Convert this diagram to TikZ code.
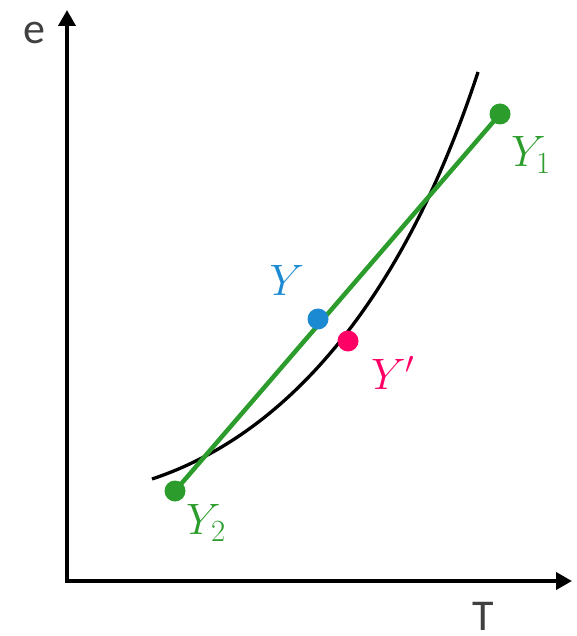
\RequirePackage{fix-cm}
\documentclass[tikz,border=0pt]{standalone}
\usepackage{fontspec}
\setmainfont{Carlito}
\usetikzlibrary{arrows.meta}
\definecolor{ggreen}{RGB}{44,157,44}
\definecolor{gblue}{RGB}{27,138,211}
\definecolor{gpink}{RGB}{255,0,102}
\definecolor{lblgray}{RGB}{64,64,64}
\tikzset{
  axis/.style={line width=3.8pt,-{Triangle[length=16pt,width=17pt]}},
  dot/.style={circle,inner sep=0pt,minimum size=21pt,fill=#1},
  axlabel/.style={text=lblgray,font=\fontsize{44}{48}\selectfont,inner sep=0pt},
  mlabel/.style={text=#1,font=\fontsize{44}{48}\selectfont,inner sep=0pt}
}
\begin{document}
\begin{tikzpicture}[x=1pt,y=-1pt]
\useasboundingbox (0,0) rectangle (577,636);
\coordinate (o1) at (67,583);
\coordinate (etop) at (67,10);
\coordinate (o2) at (65,581);
\coordinate (tend) at (572,581);
\draw[axis] (o1) -- (etop);
\draw[axis] (o2) -- (tend);
\node[axlabel] (e) at (34,33) {e};
\node[axlabel] (T) at (483,616) {T};
% curve
\coordinate (cs) at (152,479);
\coordinate (ce) at (478,72);
\draw[line width=3.3pt] (cs) .. controls (300,430) and (410,280) .. (ce);
% dots
\node[dot=ggreen] (y2) at (175,491) {};
\node[dot=ggreen] (y1) at (500,114) {};
\draw[ggreen,line width=4.5pt] (y2.center) -- (y1.center);
\node[dot=gblue] (y) at (318,319) {};
\node[dot=gpink] (yp) at (348,341) {};
% labels
\node[mlabel=ggreen] (l1) at (531,155) {$Y_1$};
\node[mlabel=ggreen] (l2) at (206,523) {$Y_2$};
\node[mlabel=gblue] (l) at (287,280) {$Y$};
\node[mlabel=gpink] (lp) at (393,373) {$Y'$};
\end{tikzpicture}
\end{document}
